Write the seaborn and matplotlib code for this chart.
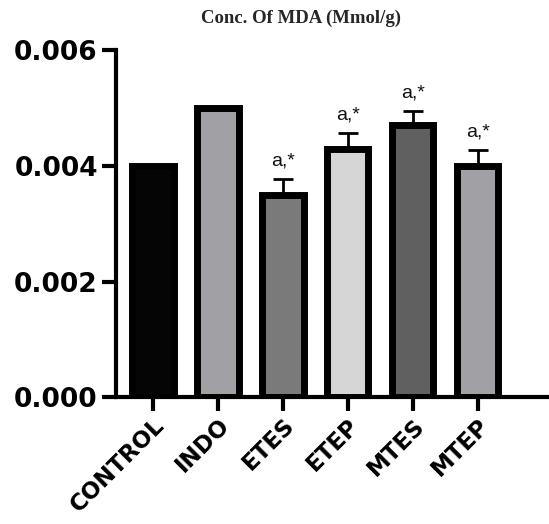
import matplotlib
matplotlib.use('Agg')
import matplotlib.pyplot as plt
import seaborn as sns
import pandas as pd
import numpy as np

groups = ['CONTROL', 'INDO', 'ETES', 'ETEP', 'MTES', 'MTEP']
mda = [0.0040, 0.0050, 0.0035, 0.0043, 0.0047, 0.0040]
sem = [0.0, 0.0, 0.00027, 0.00027, 0.00025, 0.00028]
marks = ['', '', 'a,*', 'a,*', 'a,*', 'a,*']
colors = ['#050505', '#a0a0a6', '#7a7a7a', '#d6d6d6', '#606060', '#a0a0a6']

df = pd.DataFrame({'group': groups, 'mda': mda})

sns.set_style('ticks')
plt.rcParams['font.family'] = ['DejaVu Sans']

fig = plt.figure(figsize=(5.49, 5.24), dpi=100)
ax = fig.add_axes([0.211, 0.242, 0.789, 0.662])

sns.barplot(data=df, x='group', y='mda', hue='group', palette=colors,
            legend=False, width=0.64, edgecolor='black', linewidth=5, ax=ax)

# upper error bars only
for i, (m, e) in enumerate(zip(mda, sem)):
    if e > 0:
        ax.errorbar(i, m, yerr=[[0], [e]], fmt='none', ecolor='black',
                    elinewidth=2, capsize=7, capthick=2)
    if marks[i]:
        ax.text(i, m + e + 0.00016, marks[i], ha='center', va='bottom',
                fontsize=14, color='#111111', family='Liberation Sans', clip_on=False)

ax.set_ylim(0, 0.006)
ax.set_xlim(-0.57, 6.1)
ax.set_yticks([0, 0.002, 0.004, 0.006])
ax.set_yticklabels(['0.000', '0.002', '0.004', '0.006'], fontsize=19, fontweight='bold')
ax.set_xticks(range(len(groups)))
ax.set_xticklabels(groups, rotation=45, ha='right', rotation_mode='anchor',
                   fontsize=16.5, fontweight='bold')
ax.set_xlabel('')
ax.set_ylabel('')

sns.despine(ax=ax)
for s in ['left', 'bottom']:
    ax.spines[s].set_linewidth(3)
    ax.spines[s].set_color('black')
ax.tick_params(axis='y', length=10, width=3, pad=3, colors='black')
ax.tick_params(axis='x', length=10, width=3, pad=2, colors='black')

fig.text(0.548, 0.965, 'Conc. Of MDA (Mmol/g)', ha='center', va='center',
         fontsize=13.5, fontweight='bold', family=['Liberation Serif', 'DejaVu Serif'])

fig.savefig('out.png', dpi=100)
